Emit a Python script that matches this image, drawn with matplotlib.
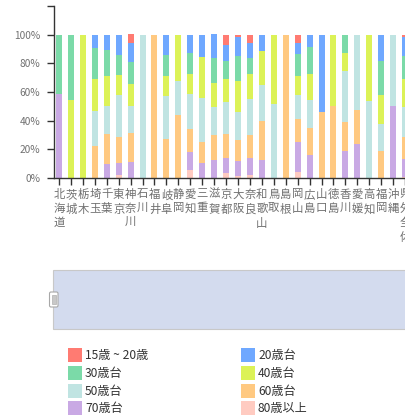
import matplotlib
matplotlib.use("Agg")
import matplotlib.pyplot as plt
from matplotlib.patches import Rectangle, FancyBboxPatch
from matplotlib.ticker import FuncFormatter

plt.rcParams["font.family"] = ["Noto Sans CJK JP", "DejaVu Sans"]

# ===== データ（％、下から積み上げ）=====
prefs = ["北海道", "茨城", "栃木", "埼玉", "千葉", "東京", "神奈川", "石川", "福井", "岐阜",
         "静岡", "愛知", "三重", "滋賀", "京都", "大阪", "奈良", "和歌山", "鳥取", "島根",
         "岡山", "広島", "山口", "徳島", "香川", "愛媛", "高知", "福岡", "沖縄", "県外全体"]

age80 = [0, 0, 0, 0, 0, 1.9, 0, 0, 0, 0, 0, 5.9, 0, 0, 3.3, 1.6, 2.3, 0, 0, 0,
         4.4, 0, 0, 0, 0, 0, 0, 0, 0, 0.9]
age70 = [58.3, 0, 0, 0, 9.6, 8.9, 11.5, 0, 0, 0, 0, 12.2, 10.8, 12.9, 11.0, 10.5, 11.9, 12.9, 0, 0,
         20.4, 15.7, 0, 0, 18.5, 23.4, 0, 0, 50.0, 12.2]
age60 = [0, 0, 0, 22.2, 20.8, 17.6, 19.7, 0, 100, 26.9, 43.8, 15.9, 14.3, 16.9, 16.4, 14.1, 15.5, 26.7, 0, 100,
         16.2, 19.2, 45.9, 50.0, 20.4, 24.1, 0, 18.5, 0, 15.4]
age50 = [0, 0, 0, 24.4, 20.1, 29.5, 19.0, 100, 0, 30.2, 23.9, 24.6, 30.9, 19.7, 22.5, 19.9, 25.3, 25.3, 51.5, 0,
         16.9, 19.7, 0, 0, 35.8, 52.5, 53.6, 19.2, 50.0, 21.0]
age40 = [0, 54.5, 100, 22.5, 20.8, 14.1, 15.5, 0, 0, 14.1, 32.3, 14.1, 28.6, 16.9, 15.9, 21.5, 17.6, 23.4, 48.5, 0,
         13.3, 18.0, 0, 50.0, 12.6, 0, 46.4, 20.1, 0, 19.8]
age30 = [41.7, 45.5, 0, 21.5, 18.0, 13.6, 15.5, 0, 0, 14.8, 0, 14.8, 0, 17.6, 12.6, 17.6, 11.2, 0, 0, 0,
         15.5, 18.5, 0, 0, 12.6, 0, 0, 23.9, 0, 16.1]
age20 = [0, 0, 0, 9.4, 10.5, 14.5, 12.9, 0, 0, 14.1, 0, 12.6, 15.5, 16.2, 11.2, 13.1, 10.5, 11.7, 0, 0,
         7.3, 8.9, 54.1, 0, 0, 0, 0, 18.3, 0, 13.1]
age15 = [0, 0, 0, 0, 0, 0, 6.1, 0, 0, 0, 0, 0, 0, 0, 7.0, 1.6, 5.6, 0, 0, 0,
         6.1, 0, 0, 0, 0, 0, 0, 0, 0, 1.6]

# 凡例の並び順
legend_names = ["15歳 ~ 20歳", "20歳台", "30歳台", "40歳台", "50歳台", "60歳台", "70歳台", "80歳以上"]
legend_colors = ["#ff7b72", "#6fa8ff", "#7bdaa8", "#dcf257", "#c0e4e2", "#ffc981", "#c9a9e4", "#ffcbc1"]
# 積み上げ順（下から）
stack = [age80, age70, age60, age50, age40, age30, age20, age15]
stack_idx = [7, 6, 5, 4, 3, 2, 1, 0]

# ===== グラフ =====
W, H = 405, 419
fig = plt.figure(figsize=(W / 100, H / 100), dpi=100)
ax = fig.add_axes([54 / W, (H - 178) / H, 363 / W, 172 / H])

x = list(range(len(prefs)))
bottom = [0.0] * len(prefs)
for vals, k in zip(stack, stack_idx):
    ax.bar(x, vals, width=0.5, bottom=bottom, color=legend_colors[k], linewidth=0)
    bottom = [b + v for b, v in zip(bottom, vals)]

ax.set_xlim(-0.42, 30.0)
ax.set_ylim(0, 120)
ax.set_yticks(range(0, 121, 20))
ax.yaxis.set_major_formatter(FuncFormatter(lambda v, _: "" if v > 100 else f"{v:.0f}%"))
ax.set_xticks(x)
ax.set_xticklabels(["\n".join(p) for p in prefs], linespacing=1.4)
ax.tick_params(axis="x", length=5, width=1, color="#333333", labelcolor="#707070",
               labelsize=8.2, pad=3)
ax.tick_params(axis="y", length=5, width=1, color="#333333", labelcolor="#707070",
               labelsize=7.3, pad=5)
for s in ["top", "right"]:
    ax.spines[s].set_visible(False)
for s in ["left", "bottom"]:
    ax.spines[s].set_color("#333333")
    ax.spines[s].set_linewidth(1)

# ===== スライダーと凡例（ピクセル座標のオーバーレイ）=====
ov = fig.add_axes([0, 0, 1, 1])
ov.set_xlim(0, W)
ov.set_ylim(H, 0)
ov.axis("off")
ov.patch.set_alpha(0)

ov.add_patch(Rectangle((53, 270), 360, 59, facecolor="#d3dbee", edgecolor="#c8c8c8", linewidth=0.8))
ov.add_patch(FancyBboxPatch((49.5, 292), 8.5, 15, boxstyle="round,pad=0,rounding_size=1.5",
                            facecolor="white", edgecolor="#a8a8a8", linewidth=0.8))
ov.add_patch(Rectangle((51.8, 295), 4, 9, facecolor="#c8c8c8", edgecolor="#b0b0b0", linewidth=0.5))

for i, (name, col) in enumerate(zip(legend_names, legend_colors)):
    row, c = divmod(i, 2)
    lx = 68 + c * 173
    ly = 355 + row * 17.8
    ov.add_patch(Rectangle((lx, ly - 7), 14, 14, facecolor=col, edgecolor="none"))
    ov.text(lx + 17, ly + 0.5, name, fontsize=8.7, color="#333333", va="center", ha="left")

fig.savefig("out.png", dpi=100)
